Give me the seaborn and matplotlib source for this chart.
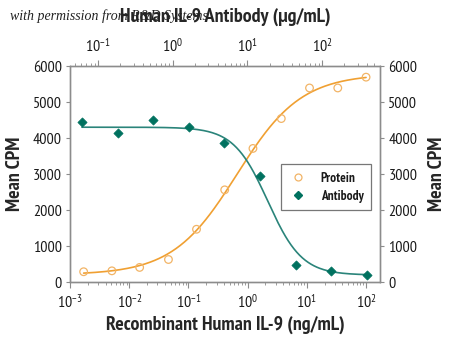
import numpy as np
import pandas as pd
import matplotlib
matplotlib.use("Agg")
import matplotlib.pyplot as plt
import seaborn as sns
from matplotlib.ticker import LogLocator, NullFormatter
from matplotlib.lines import Line2D

# ---- data ----
protein_conc = [0.0017, 0.0051, 0.015, 0.046, 0.137, 0.41, 1.23, 3.7, 11.1, 33.3, 100]   # ng/mL
protein_cpm = [285, 310, 405, 625, 1465, 2560, 3710, 4540, 5390, 5390, 5690]
antibody_conc = [0.061, 0.183, 0.549, 1.65, 4.94, 14.8, 44.4, 133, 400]               # ug/mL
antibody_cpm = [4455, 4135, 4495, 4310, 3850, 2955, 480, 305, 200]

# 4-parameter logistic fit parameters
protein_fit = dict(bottom=200, top=5780, ec50=0.66, hill=0.8)
antibody_fit = dict(bottom=193, top=4300, ec50=18.8, hill=1.9)

yticks = [0, 1000, 2000, 3000, 4000, 5000, 6000]
bottom_xlim = (1e-3, 172)
top_xlim = (0.0422, 599)

orange_line = "#F0A032"
orange_mark = "#F2B466"
teal_line = "#2A847A"
teal_mark = "#00715F"
frame_col = "#8C8C8C"
text_col = "#1a1a1a"


def logistic4(x, p):
    x = np.asarray(x, dtype=float)
    return p["bottom"] + (p["top"] - p["bottom"]) / (1.0 + (p["ec50"] / x) ** p["hill"])


def logistic4_dec(x, p):
    x = np.asarray(x, dtype=float)
    return p["bottom"] + (p["top"] - p["bottom"]) / (1.0 + (x / p["ec50"]) ** p["hill"])


sns.set_style("ticks")
COND = ["PT Sans Narrow", "Roboto Condensed", "Liberation Sans", "DejaVu Sans"]
plt.rcParams["font.family"] = COND
plt.rcParams["mathtext.fontset"] = "custom"
plt.rcParams["mathtext.rm"] = "PT Sans Narrow"
plt.rcParams["mathtext.it"] = "PT Sans Narrow"
plt.rcParams["mathtext.bf"] = "PT Sans Narrow:bold"
plt.rcParams["mathtext.default"] = "regular"
plt.rcParams["text.color"] = text_col
plt.rcParams["xtick.color"] = text_col
plt.rcParams["ytick.color"] = text_col

LABEL_SIZE = 14.3

fig = plt.figure(figsize=(4.5, 3.47), dpi=100)
ax = fig.add_axes([70 / 450, 1 - 282 / 347, 310 / 450, 216 / 347])

# protein (bottom axis)
xp = np.logspace(np.log10(protein_conc[0]), np.log10(protein_conc[-1]), 200)
df_pfit = pd.DataFrame({"x": xp, "y": logistic4(xp, protein_fit)})
df_p = pd.DataFrame({"x": protein_conc, "y": protein_cpm})
sns.lineplot(data=df_pfit, x="x", y="y", ax=ax, color=orange_line, lw=1.2)
sns.scatterplot(data=df_p, x="x", y="y", ax=ax, marker="o", s=30,
                facecolor="none", edgecolor=orange_mark, linewidth=0.9, zorder=3)
ax.set_xscale("log")
ax.set_xlim(*bottom_xlim)
ax.set_ylim(0, 6000)
ax.set_yticks(yticks)
ax.set_xlabel("Recombinant Human IL-9 (ng/mL)", fontsize=LABEL_SIZE, fontweight="bold")
ax.set_ylabel("Mean CPM", fontsize=LABEL_SIZE, fontweight="bold")
ax.xaxis.label.set_va("center")
ax.xaxis.set_label_coords(0.5, (282 - 325) / 216)
ax.yaxis.label.set_va("center")
ax.yaxis.set_label_coords((15 - 70) / 310, 0.5)

# antibody (top axis)
ax2 = ax.twiny()
xa = np.logspace(np.log10(antibody_conc[0]), np.log10(antibody_conc[-1]), 200)
df_afit = pd.DataFrame({"x": xa, "y": logistic4_dec(xa, antibody_fit)})
df_a = pd.DataFrame({"x": antibody_conc, "y": antibody_cpm})
sns.lineplot(data=df_afit, x="x", y="y", ax=ax2, color=teal_line, lw=1.2)
sns.scatterplot(data=df_a, x="x", y="y", ax=ax2, marker="D", s=22,
                color=teal_mark, edgecolor=teal_mark, linewidth=0.5, zorder=3)
ax2.set_xscale("log")
ax2.set_xlim(*top_xlim)
ax2.set_ylim(0, 6000)
ax2.set_xlabel("Human IL-9 Antibody (\u00b5g/mL)", fontsize=LABEL_SIZE, fontweight="bold")
ax2.xaxis.label.set_va("center")
ax2.xaxis.set_label_coords(0.5, (282 - 17) / 216)
ax2.set_ylabel("")

# right y labels
ax3 = ax.twinx()
ax3.set_ylim(0, 6000)
ax3.set_yticks(yticks)
ax3.set_ylabel("Mean CPM", fontsize=LABEL_SIZE, fontweight="bold")
ax3.yaxis.label.set_va("center")
ax3.yaxis.set_label_coords((437 - 70) / 310, 0.5)

for a in (ax, ax2, ax3):
    for s in a.spines.values():
        s.set_color(frame_col)
        s.set_linewidth(0.9)
    a.tick_params(which="major", length=4, width=0.8, color=frame_col, labelsize=11.5, pad=2)
    a.tick_params(which="minor", length=2, width=0.6, color=frame_col)
for a in (ax, ax2):
    a.xaxis.set_major_locator(LogLocator(base=10, numticks=10))
    a.xaxis.set_minor_locator(LogLocator(base=10, subs=np.arange(2, 10), numticks=20))
    a.xaxis.set_minor_formatter(NullFormatter())
    a.tick_params(axis="x", which="major", pad=4)
ax.tick_params(axis="y", which="major", length=3, pad=3)
ax3.tick_params(axis="y", which="major", length=3, pad=3)

# legend
handles = [
    Line2D([], [], ls="none", marker="o", ms=5, mfc="none", mec=orange_mark, mew=0.9),
    Line2D([], [], ls="none", marker="D", ms=4.5, color=teal_mark),
]
leg = ax3.legend(handles, ["Protein", "Antibody"], loc="upper left",
                 bbox_to_anchor=((281 - 70) / 310, (282 - 164) / 216),
                 frameon=True, fancybox=False, framealpha=1, edgecolor="#777777",
                 prop={"family": COND, "weight": "bold", "size": 9.5},
                 handletextpad=1.0, borderpad=0.6, labelspacing=0.35, handlelength=1.4,
                 borderaxespad=0)
leg.get_frame().set_linewidth(0.9)

fig.text(10 / 450, 1 - 16 / 347, "with permission from R&D Systems",
         fontsize=10, fontstyle="italic", family=["Liberation Serif", "DejaVu Serif"],
         color="#222222", va="center", ha="left")

fig.savefig("out.png", dpi=100)
